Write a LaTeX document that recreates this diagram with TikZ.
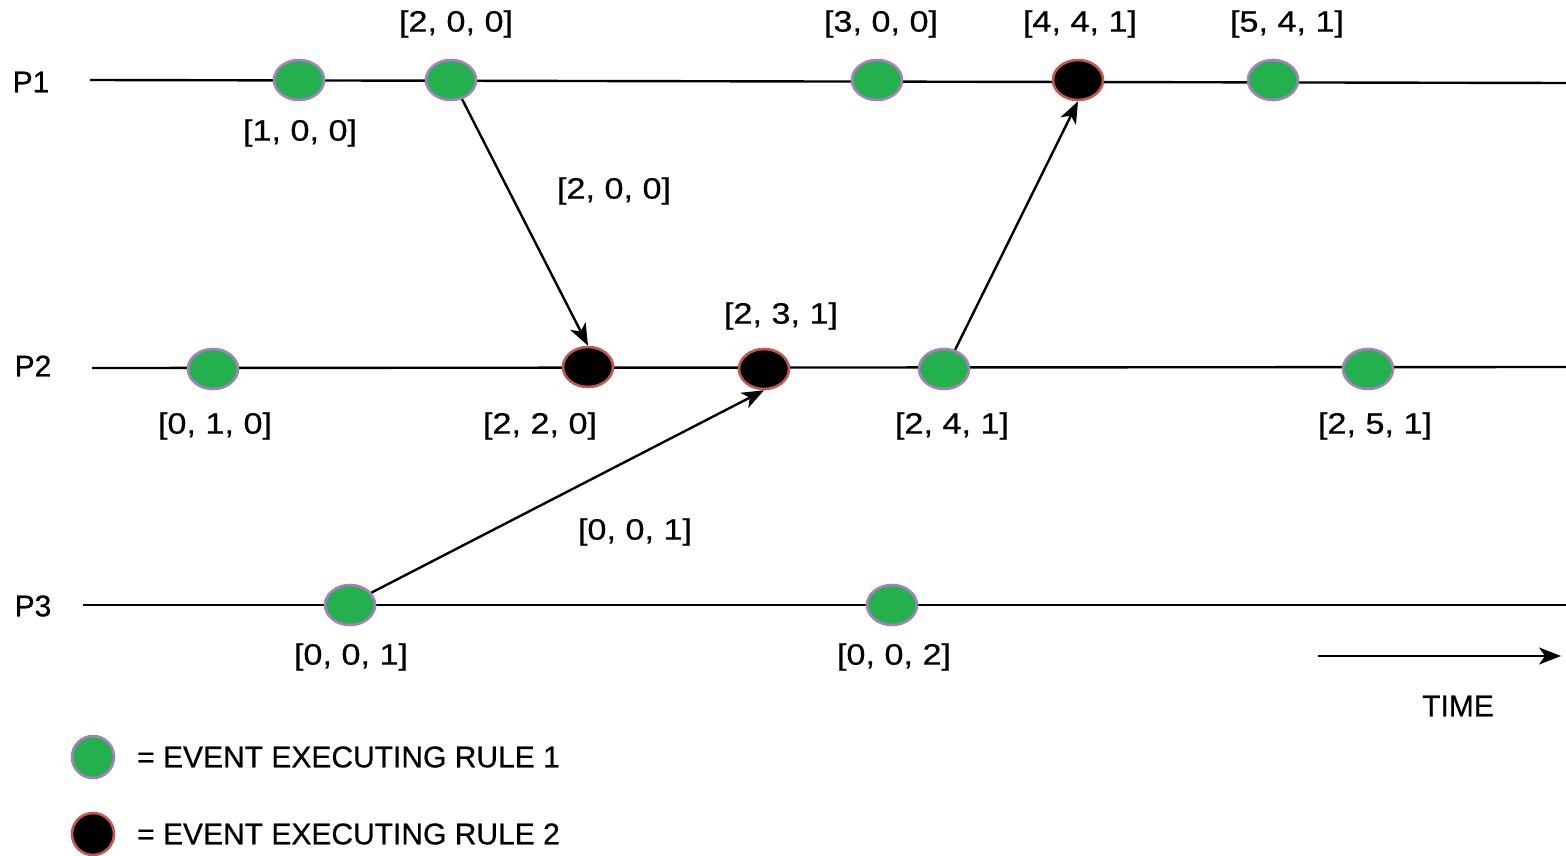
\documentclass[tikz,border=0pt]{standalone}
\usepackage{fontspec}
\setmainfont{Liberation Sans}[FakeBold=0.6]
\newfontfamily\lblfont[FakeStretch=1.16,FakeBold=0.6]{Liberation Sans}
\usetikzlibrary{arrows.meta,shapes.geometric}
\definecolor{evgreen}{RGB}{36,176,76}
\definecolor{evpurple}{RGB}{166,128,192}
\definecolor{evred}{RGB}{196,88,80}
\tikzset{
  rule1/.style={ellipse,fill=evgreen,draw=evpurple,line width=2.6pt,minimum width=50pt,minimum height=40pt,inner sep=0pt},
  rule2/.style={ellipse,fill=black,draw=evred,line width=2.6pt,minimum width=50pt,minimum height=40pt,inner sep=0pt},
  lbl/.style={font=\lblfont\fontsize{29.5}{32}\selectfont,inner sep=0pt},
  txt/.style={font=\fontsize{30}{33}\selectfont,inner sep=0pt},
  proc/.style={line width=2.4pt},
  msg/.style={line width=2.4pt,-{Stealth[length=22pt,width=17pt,inset=6pt]}},
}
\begin{document}
\begin{tikzpicture}[x=1pt,y=-1pt]
\useasboundingbox (0,0) rectangle (1566,856);
% process labels
\node[txt] (P1) at (31,82) {P1};
\node[txt] (P2) at (33,366) {P2};
\node[txt] (P3) at (33,606) {P3};
% line ends
\coordinate (p1s) at (90,80);
\coordinate (p1e) at (1566,83);
\coordinate (p2s) at (92,368);
\coordinate (p2e) at (1566,367);
\coordinate (p3s) at (83,605);
\coordinate (p3e) at (1566,605);
\draw[proc] (p1s) -- (p1e);
\draw[proc] (p2s) -- (p2e);
\draw[proc] (p3s) -- (p3e);
% events P1
\node[rule1] (a1) at (299,80) {};
\node[rule1] (a2) at (451,80) {};
\node[rule1] (a3) at (877,80) {};
\node[rule2] (a4) at (1078,80) {};
\node[rule1] (a5) at (1273,80) {};
% events P2
\node[rule1] (b1) at (213,369) {};
\node[rule2] (b2) at (588,367) {};
\node[rule2] (b3) at (764,369) {};
\node[rule1] (b4) at (944,369) {};
\node[rule1] (b5) at (1368,369) {};
% events P3
\node[rule1] (c1) at (350,605) {};
\node[rule1] (c2) at (892,605) {};
% messages
\draw[msg] (a2.300) -- (b2.north);
\draw[msg] (c1.30) -- (b3.south);
\draw[msg] (b4.60) -- (a4.south);
% labels
\node[lbl] (la1) at (300,133) {[1, 0, 0]};
\node[lbl] (la2) at (456,24) {[2, 0, 0]};
\node[lbl] (la3) at (881,24) {[3, 0, 0]};
\node[lbl] (la4) at (1080,24) {[4, 4, 1]};
\node[lbl] (la5) at (1287,24) {[5, 4, 1]};
\node[lbl] (lm1) at (614,191) {[2, 0, 0]};
\node[lbl] (lb3) at (781,316) {[2, 3, 1]};
\node[lbl] (lb1) at (215,426) {[0, 1, 0]};
\node[lbl] (lb2) at (540,426) {[2, 2, 0]};
\node[lbl] (lb4) at (952,426) {[2, 4, 1]};
\node[lbl] (lb5) at (1375,426) {[2, 5, 1]};
\node[lbl] (lm2) at (635,532) {[0, 0, 1]};
\node[lbl] (lc1) at (351,657) {[0, 0, 1]};
\node[lbl] (lc2) at (894,657) {[0, 0, 2]};
% time arrow
\coordinate (t0) at (1318,656);
\coordinate (t1) at (1561,656);
\draw[msg] (t0) -- (t1);
\node[txt] (time) at (1458,706) {TIME};
% legend
\node[rule1,minimum width=42pt,minimum height=42pt] (g1) at (93,757) {};
\node[rule2,minimum width=42pt,minimum height=42pt] (g2) at (93,834) {};
\node[txt,anchor=west] (t1l) at (137,757) {= EVENT EXECUTING RULE 1};
\node[txt,anchor=west] (t2l) at (137,834) {= EVENT EXECUTING RULE 2};
\end{tikzpicture}
\end{document}
